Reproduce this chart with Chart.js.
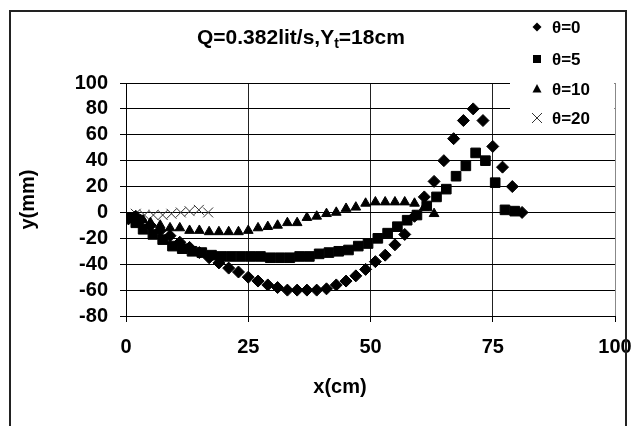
<!DOCTYPE html>
<html lang="en">
<head>
<meta charset="UTF-8">
<title>Q=0.382lit/s, Yt=18cm</title>
<script src="https://cdn.jsdelivr.net/npm/chart.js"></script>
<style>
  html, body { margin: 0; padding: 0; background: #fff; }
  #wrap { position: relative; width: 631px; height: 426px; }
</style>
</head>
<body>
<div id="wrap"><canvas id="profileChart" width="631" height="426"></canvas></div>
<script>
// water surface profile: x in cm, y in mm, one pair of arrays per angle
const theta0X = [0.5, 2, 3, 5, 7, 9, 11, 13, 15, 17, 19, 21, 23, 25, 27, 29, 31, 33, 35, 37, 39, 41, 43, 45, 47, 49, 51, 53, 55, 57, 59, 61, 63, 65, 67, 69, 71, 73, 75, 77, 79, 81];
const theta0Y = [-5, -3, -6, -10, -14, -18, -23, -27, -31, -35, -39, -43, -46, -50, -53, -56, -58, -60, -60, -60, -60, -59, -56, -53, -49, -44, -38, -33, -25, -17, -3, 12, 24, 40, 57, 71, 80, 71, 51, 35, 20, 0];

const theta5X = [1, 2, 3.5, 5.5, 7.5, 9.5, 11.5, 13.5, 15.5, 17.5, 19.5, 21.5, 23.5, 25.5, 27.5, 29.5, 31.5, 33.5, 35.5, 37.5, 39.5, 41.5, 43.5, 45.5, 47.5, 49.5, 51.5, 53.5, 55.5, 57.5, 59.5, 61.5, 63.5, 65.5, 67.5, 69.5, 71.5, 73.5, 75.5, 77.5, 79.5];
const theta5Y = [-4, -8, -13, -17, -21, -26, -28, -30, -31, -33, -34, -34, -34, -34, -34, -35, -35, -35, -34, -34, -32, -31, -30, -29, -26, -24, -20, -16, -11, -6, -2, 5, 12, 18, 28, 36, 46, 40, 23, 2, 1];

const theta10X = [2, 3.5, 5, 7, 9, 11, 13, 15, 17, 19, 21, 23, 25, 27, 29, 31, 33, 35, 37, 39, 41, 43, 45, 47, 49, 51, 53, 55, 57, 59, 61, 63];
const theta10Y = [-4, -6, -8, -10, -12, -12, -14, -14, -15, -15, -15, -15, -14, -12, -11, -10, -8, -8, -4, -3, -1, 0, 3, 4, 7, 8, 8, 8, 8, 7, 4, -1];

const theta20X = [2, 3.8, 5.6, 7.5, 9.3, 11.2, 13, 14.9, 16.8];
const theta20Y = [-1, -2, -2, -2, -1, 0, 1, 2, 0];

const seriesNames = ['θ=0', 'θ=5', 'θ=10', 'θ=20'];
const titleMain = 'Q=0.382lit/s,Y';
const titleSub = 't';
const titleEnd = '=18cm';
const xTitle = 'x(cm)';
const yTitle = 'y(mm)';

const FONT = '"Liberation Sans", Arial, sans-serif';

function toPoints(xs, ys) {
    return xs.map((x, i) => ({ x: x, y: ys[i] }));
}

// title, legend, x title and outer frame drawn on top of the chart
const decorPlugin = {
    id: 'decor',
    afterDatasetsDraw(chart) {
        const ctx = chart.ctx;
        ctx.save();
        // legend sits over the top-right of the plot area
        ctx.fillStyle = '#fff';
        ctx.fillRect(510, 12, 104.5, 113);

        const rows = [27, 59, 89, 118];
        const mx = 537;
        ctx.fillStyle = '#000';
        ctx.strokeStyle = '#000';
        // diamond
        ctx.beginPath();
        ctx.moveTo(mx, rows[0] - 4.5);
        ctx.lineTo(mx + 4.5, rows[0]);
        ctx.lineTo(mx, rows[0] + 4.5);
        ctx.lineTo(mx - 4.5, rows[0]);
        ctx.closePath();
        ctx.fill();
        // square
        ctx.fillRect(mx - 4, rows[1] - 4, 8, 8);
        // triangle
        ctx.beginPath();
        ctx.moveTo(mx, rows[2] - 5);
        ctx.lineTo(mx + 4.5, rows[2] + 3.5);
        ctx.lineTo(mx - 4.5, rows[2] + 3.5);
        ctx.closePath();
        ctx.fill();
        // cross
        ctx.lineWidth = 1;
        ctx.strokeStyle = '#333';
        ctx.beginPath();
        ctx.moveTo(mx - 5, rows[3] - 5);
        ctx.lineTo(mx + 5, rows[3] + 5);
        ctx.moveTo(mx + 5, rows[3] - 5);
        ctx.lineTo(mx - 5, rows[3] + 5);
        ctx.stroke();

        ctx.font = 'bold 17px ' + FONT;
        ctx.textAlign = 'left';
        ctx.textBaseline = 'middle';
        seriesNames.forEach((name, i) => ctx.fillText(name, 552, rows[i] + 1));
        ctx.restore();
    },
    afterDraw(chart) {
        const ctx = chart.ctx;
        ctx.save();
        ctx.fillStyle = '#000';
        ctx.textBaseline = 'alphabetic';
        ctx.textAlign = 'left';

        // chart title with subscript t
        let x = 197;
        const base = 44;
        ctx.font = 'bold 21px ' + FONT;
        ctx.fillText(titleMain, x, base);
        x += ctx.measureText(titleMain).width;
        ctx.font = 'bold 14px ' + FONT;
        ctx.fillText(titleSub, x, base + 4);
        x += ctx.measureText(titleSub).width;
        ctx.font = 'bold 21px ' + FONT;
        ctx.fillText(titleEnd, x, base);

        // x axis title
        ctx.font = 'bold 20px ' + FONT;
        ctx.textAlign = 'center';
        ctx.textBaseline = 'middle';
        ctx.fillText(xTitle, 340, 387);

        // outer frame
        ctx.strokeStyle = '#222';
        ctx.lineWidth = 2;
        ctx.beginPath();
        ctx.moveTo(10, 426);
        ctx.lineTo(10, 11);
        ctx.lineTo(626, 11);
        ctx.lineTo(626, 426);
        ctx.stroke();
        ctx.restore();
    }
};

const ctx = document.getElementById('profileChart').getContext('2d');
const chart = new Chart(ctx, {
    type: 'scatter',
    data: {
        datasets: [
            {
                label: seriesNames[0],
                data: toPoints(theta0X, theta0Y),
                pointStyle: 'rectRot',
                pointRadius: 6,
                backgroundColor: '#000',
                borderColor: '#000',
                borderWidth: 1
            },
            {
                label: seriesNames[1],
                data: toPoints(theta5X, theta5Y),
                pointStyle: 'rect',
                pointRadius: 6.8,
                backgroundColor: '#000',
                borderColor: '#000',
                borderWidth: 1
            },
            {
                label: seriesNames[2],
                data: toPoints(theta10X, theta10Y),
                pointStyle: 'triangle',
                pointRadius: 5.6,
                backgroundColor: '#000',
                borderColor: '#000',
                borderWidth: 1
            },
            {
                label: seriesNames[3],
                data: toPoints(theta20X, theta20Y),
                pointStyle: 'crossRot',
                pointRadius: 7,
                backgroundColor: '#333',
                borderColor: '#333',
                borderWidth: 1
            }
        ]
    },
    options: {
        responsive: false,
        animation: false,
        layout: { padding: { top: 83, right: 16, bottom: 0, left: 0 } },
        plugins: {
            legend: { display: false },
            tooltip: { enabled: false },
            title: { display: false }
        },
        scales: {
            x: {
                type: 'linear',
                min: 0,
                max: 100,
                ticks: {
                    stepSize: 25,
                    autoSkip: false,
                    maxRotation: 0,
                    color: '#000',
                    padding: 13,
                    font: { family: FONT, size: 20, weight: 'bold' }
                },
                grid: {
                    color: c => c.tick && c.tick.value === 100 ? '#888' : '#222',
                    tickColor: '#000',
                    tickLength: 6,
                    lineWidth: 1
                },
                border: { color: '#000', width: 1 },
                afterFit: s => { s.height = 110; s.paddingLeft = 0; s.paddingRight = 0; }
            },
            y: {
                type: 'linear',
                min: -80,
                max: 100,
                ticks: {
                    stepSize: 20,
                    autoSkip: false,
                    color: '#000',
                    padding: 12,
                    font: { family: FONT, size: 20, weight: 'bold' }
                },
                grid: {
                    color: '#000',
                    tickColor: '#000',
                    tickLength: 6,
                    lineWidth: 1
                },
                border: { color: '#000', width: 1 },
                title: {
                    display: true,
                    text: yTitle,
                    color: '#000',
                    padding: { top: 16, bottom: 0 },
                    font: { family: FONT, size: 20, weight: 'bold' }
                },
                afterFit: s => { s.width = 126; s.paddingTop = 0; s.paddingBottom = 0; }
            }
        }
    },
    plugins: [decorPlugin]
});
</script>
</body>
</html>
